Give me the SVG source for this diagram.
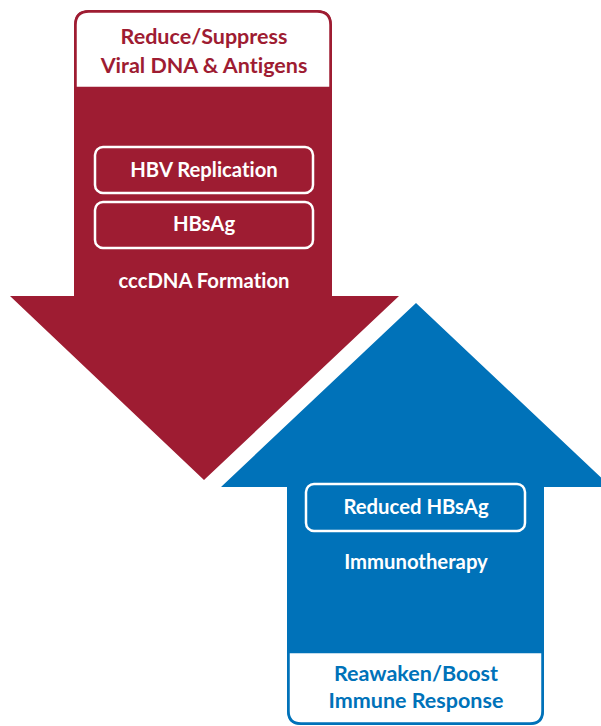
<svg xmlns="http://www.w3.org/2000/svg" width="601" height="726" viewBox="0 0 601 726">
<style>
.t{font-family:Lato,"Open Sans","Liberation Sans",sans-serif;font-weight:bold;text-anchor:middle;font-variant-ligatures:none}
.w{fill:#ffffff}
.r{fill:#9e1c32}
.b{fill:#0072b9}
.box{fill:none;stroke:#ffffff;stroke-width:2.5}
</style>
<rect width="601" height="726" fill="#ffffff"/>
<g id="red-arrow">
<path d="M74,25 Q74,10 89,10 H317 Q332,10 332,25 V296 H399 L204,480 L10,296 H74 Z" fill="#9e1c32"/>
<path d="M75.5,88 V25 Q75.5,11.5 89,11.5 H317 Q330.5,11.5 330.5,25 V88 Z" fill="#ffffff" stroke="#9e1c32" stroke-width="2.5"/>
<text class="t r" x="204" y="44" font-size="21.5">Reduce/Suppress</text>
<text class="t r" x="204" y="73" font-size="21.5">Viral DNA &amp; Antigens</text>
</g>
<g id="hbv-replication">
<rect class="box" x="95" y="147" width="218" height="46" rx="8"/>
<text class="t w" x="204" y="177" font-size="20.3">HBV Replication</text>
</g>
<g id="hbsag">
<rect class="box" x="95" y="202" width="218" height="46" rx="8"/>
<text class="t w" x="204" y="231" font-size="20.3">HBsAg</text>
</g>
<g id="cccdna">
<text class="t w" x="204" y="288" font-size="20.3">cccDNA Formation</text>
</g>
<g id="blue-arrow">
<path d="M221,487 L416,303 L611,487 H544 V711 Q544,725 530,725 H301 Q287,725 287,711 V487 Z" fill="#0072b9"/>
<path d="M288.5,652 H542.5 V711 Q542.5,723.5 530,723.5 H301 Q288.5,723.5 288.5,711 Z" fill="#ffffff" stroke="#0072b9" stroke-width="2.5"/>
<text class="t b" x="416" y="681" font-size="21.5">Reawaken/Boost</text>
<text class="t b" x="416" y="708" font-size="21.5">Immune Response</text>
</g>
<g id="reduced-hbsag">
<rect class="box" x="306" y="484" width="219" height="47" rx="8"/>
<text class="t w" x="416" y="514" font-size="20.3">Reduced HBsAg</text>
</g>
<g id="immunotherapy">
<text class="t w" x="416" y="569" font-size="20.3">Immunotherapy</text>
</g>
<g id="connectors"></g>
</svg>
